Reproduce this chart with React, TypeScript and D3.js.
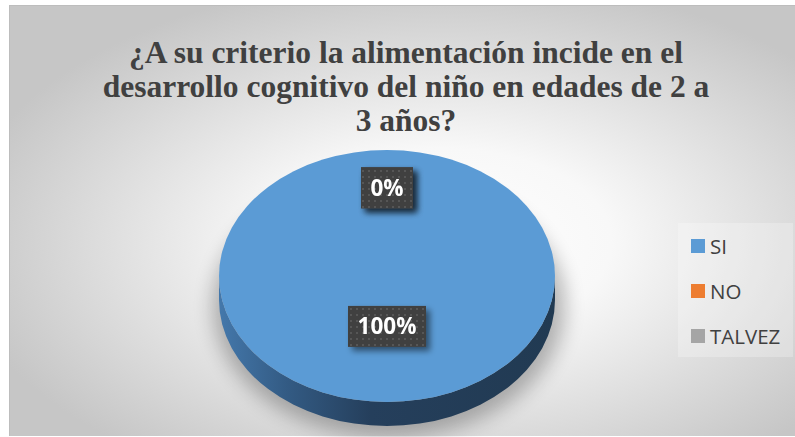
import React from "react";
import * as d3 from "d3";

const categories = ["SI", "NO", "TALVEZ"];
const values = [100, 0, 0];
const labels = ["100%", "0%", "0%"];
const colors = ["#5b9bd5", "#ed7d31", "#a5a5a5"];
const titleLines = [
  "¿A su criterio la alimentación incide en el",
  "desarrollo cognitivo del niño en edades de 2 a",
  "3 años?",
];

const W = 795;
const H = 437;

export default function App() {
  const cx = 387;
  const cy = 276;
  const rx = 168;
  const ry = 126;
  const depth = 24;

  const pie = d3.pie<number>().sort(null).startAngle(0).endAngle(2 * Math.PI);
  const arcs = pie(values);

  // point on ellipse, angle measured clockwise from top
  const pt = (a: number, k = 1, dy = 0): [number, number] => [
    cx + rx * k * Math.sin(a),
    cy - ry * k * Math.cos(a) + dy,
  ];

  const slicePath = (a0: number, a1: number) => {
    if (a1 - a0 <= 1e-6) return "";
    if (a1 - a0 >= 2 * Math.PI - 1e-6) {
      const [x0, y0] = pt(0);
      const [x1, y1] = pt(Math.PI);
      return `M${x0},${y0}A${rx},${ry} 0 1 1 ${x1},${y1}A${rx},${ry} 0 1 1 ${x0},${y0}Z`;
    }
    const [sx, sy] = pt(a0);
    const [ex, ey] = pt(a1);
    const large = a1 - a0 > Math.PI ? 1 : 0;
    return `M${cx},${cy}L${sx},${sy}A${rx},${ry} 0 ${large} 1 ${ex},${ey}Z`;
  };

  const sidePath = `M${cx - rx},${cy}L${cx - rx},${cy + depth}A${rx},${ry} 0 0 0 ${cx + rx},${cy + depth}L${cx + rx},${cy}A${rx},${ry} 0 0 1 ${cx - rx},${cy}Z`;

  const labelPos = (d: d3.PieArcDatum<number>) => {
    const mid = (d.startAngle + d.endAngle) / 2;
    const k = d.value === 0 ? 0.7 : 0.4;
    return pt(mid, k);
  };

  const legendY = d3.scalePoint<string>().domain(categories).range([246, 336]);

  return (
    <svg
      width={W}
      height={H}
      style={{ position: "absolute", left: 0, top: 0 }}
      xmlns="http://www.w3.org/2000/svg"
    >
      <defs>
        <radialGradient id="bg" cx="0.55" cy="0.55" r="0.62">
          <stop offset="0" stopColor="#ffffff" />
          <stop offset="0.35" stopColor="#f8f8f8" />
          <stop offset="1" stopColor="#c6c6c6" />
        </radialGradient>
        <linearGradient id="side" x1="0" x2="1" y1="0" y2="0">
          <stop offset="0" stopColor="#4478ab" />
          <stop offset="0.2" stopColor="#335b84" />
          <stop offset="0.45" stopColor="#253f5c" />
          <stop offset="1" stopColor="#213a52" />
        </linearGradient>
        <filter id="shadow" x="-30%" y="-30%" width="160%" height="160%">
          <feGaussianBlur stdDeviation="10" />
        </filter>
        <filter id="lblShadow" x="-30%" y="-30%" width="160%" height="160%">
          <feGaussianBlur in="SourceAlpha" stdDeviation="3" />
          <feOffset dx="4" dy="4" result="o" />
          <feComponentTransfer>
            <feFuncA type="linear" slope="0.5" />
          </feComponentTransfer>
          <feMerge>
            <feMergeNode />
            <feMergeNode in="SourceGraphic" />
          </feMerge>
        </filter>
        <pattern id="dots" width="6" height="6" patternUnits="userSpaceOnUse">
          <rect width="6" height="6" fill="#404040" />
          <rect x="2" y="2" width="2" height="2" fill="#575757" />
        </pattern>
      </defs>
      <rect x={0} y={0} width={W} height={H} fill="#ffffff" />
      <rect x={9} y={5} width={W - 9} height={H - 6} fill="url(#bg)" />
      <rect x={9} y={5} width={1} height={H - 6} fill="#bdbdbd" />
      <rect x={9} y={5} width={W - 9} height={1} fill="#bdbdbd" />

      {titleLines.map((t, i) => (
        <text
          key={i}
          x={406}
          y={63 + i * 34}
          textAnchor="middle"
          fontFamily="'Liberation Serif', 'Times New Roman', serif"
          fontWeight="bold"
          fontSize={31.5}
          fill="#404040"
        >
          {t}
        </text>
      ))}

      {/* shadow */}
      <ellipse
        cx={cx + 2}
        cy={cy + depth + 6}
        rx={rx + 8}
        ry={ry + 5}
        fill="#000"
        opacity={0.28}
        filter="url(#shadow)"
      />
      {/* side */}
      <path d={sidePath} fill="url(#side)" />
      {/* top faces */}
      {arcs.map((d, i) => (
        <path key={i} d={slicePath(d.startAngle, d.endAngle)} fill={colors[i]} />
      ))}

      {/* labels */}
      {arcs
        .map((d, i) => ({ d, i }))
        .reverse()
        .map(({ d, i }) => {
          const [lx, ly] = labelPos(d);
          const w = labels[i].length * 13 + 26;
          const h = 41;
          return (
            <g key={i} filter="url(#lblShadow)">
              <rect x={lx - w / 2} y={ly - h / 2} width={w} height={h} fill="url(#dots)" />
              <text
                x={lx}
                y={ly + 8}
                textAnchor="middle"
                fontFamily="'Open Sans', sans-serif"
                fontWeight="bold"
                fontSize={22.5}
                fill="#ffffff"
              >
                {labels[i]}
              </text>
            </g>
          );
        })}

      {/* legend */}
      <rect x={678} y={223} width={115} height={134} fill="#ffffff" opacity={0.25} />
      {categories.map((c, i) => (
        <g key={c}>
          <rect x={691} y={legendY(c)! - 7} width={14} height={14} fill={colors[i]} />
          <text
            x={710}
            y={legendY(c)! + 7.5}
            fontFamily="'Open Sans', sans-serif"
            fontSize={20.5}
            fill="#404040"
          >
            {c}
          </text>
        </g>
      ))}
    </svg>
  );
}
